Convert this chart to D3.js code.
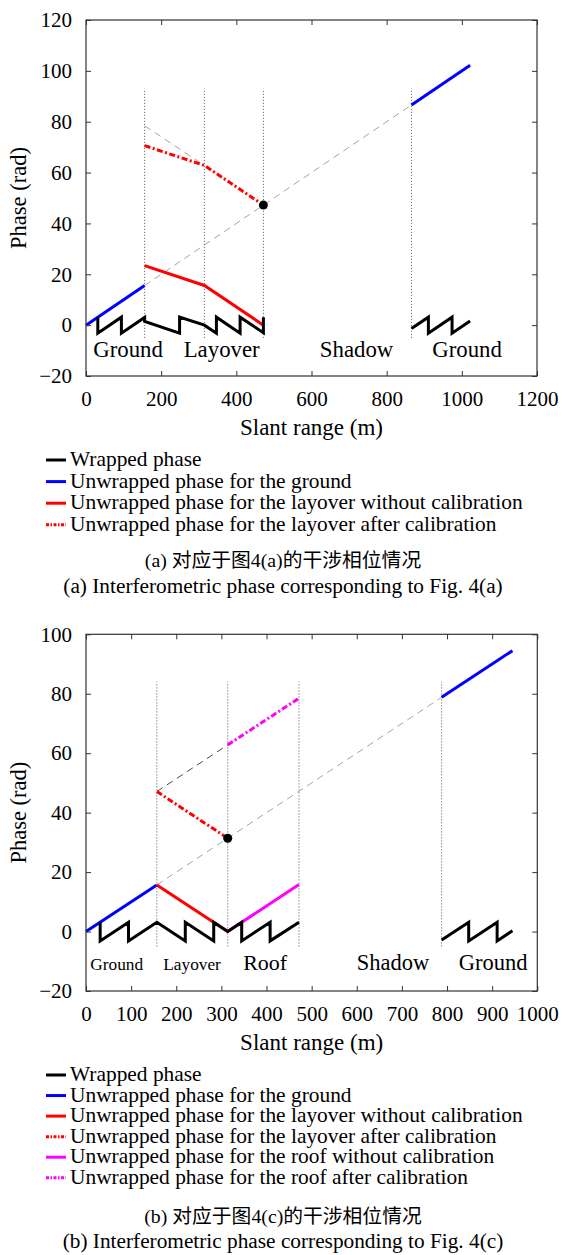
<!DOCTYPE html>
<html>
<head>
<meta charset="utf-8">
<script src="https://cdn.jsdelivr.net/npm/d3@7"></script>
<style>
body { margin: 0; background: #fff; }
svg text { font-family: "Liberation Serif", "Times New Roman", "Noto Sans CJK SC", serif; fill: #000; }
</style>
</head>
<body>
<div class="graph"></div>
<script>
//Panel (a) data, slant range (m) vs phase (rad)
const aTicksX = [0, 200, 400, 600, 800, 1000, 1200];
const aTicksY = [-20, 0, 20, 40, 60, 80, 100, 120];
const aBounds = [156, 315, 472, 866];
const aWrapped = [
    [[31.4, 3.14], [31.4, -3.14], [94.2, 3.14], [94.2, -3.14], [156, 3.04], [156, 1.5], [249, -3.14], [249, 3.14], [315, 0],
     [347, -3.14], [347, 3.14], [410, -3.14], [410, 3.14], [472, -3.0], [472, 3.14]],
    [[866, -1.36], [911, 3.14], [911, -3.14], [974, 3.14], [974, -3.14], [1022, 1.66]]
];
const aGround = [[[0, 0], [156, 15.6]], [[866, 86.6], [1022, 102.2]]];
const aLayover = [[[156, 23.4], [315, 15.6], [472, 0]]];
const aLayoverCal = [[[156, 70.6], [315, 62.8], [472, 47.2]]];
const aGuideLight = [[[156, 15.6], [866, 86.6]], [[156, 78.4], [315, 62.8]]];
const aGuideDark = [];
const aDot = [[472, 47.2]];
const aRegions = ["Ground", "Layover", "Shadow", "Ground"];
const aRegionX = [112, 361, 720, 1014];

//Panel (b) data
const bTicksX = [0, 100, 200, 300, 400, 500, 600, 700, 800, 900, 1000];
const bTicksY = [-20, 0, 20, 40, 60, 80, 100];
const bBounds = [157, 314, 472, 788];
const bWrapped = [
    [[31.4, 3.14], [31.4, -3.14], [94.2, 3.14], [94.2, -3.14], [157, 3.14], [220, -3.14], [220, 3.14], [283, -3.14], [283, 3.14],
     [314, 0], [345, 3.14], [345, -3.14], [408, 3.14], [408, -3.14], [472, 3.14]],
    [[788, -2.88], [848, 3.14], [848, -3.14], [911, 3.14], [911, -3.14], [945, 0.26]]
];
const bGround = [[[0, 0], [157, 15.7]], [[788, 78.8], [945, 94.5]]];
const bLayover = [[[157, 15.7], [314, 0]]];
const bLayoverCal = [[[157, 47.1], [314, 31.4]]];
const bRoof = [[[314, 0], [472, 15.8]]];
const bRoofCal = [[[314, 62.8], [472, 78.5]]];
const bGuideLight = [[[157, 15.7], [788, 78.8]]];
const bGuideDark = [[[157, 47.1], [314, 62.8]]];
const bDot = [[314, 31.4]];
const bRegions = ["Ground", "Layover", "Roof", "Shadow", "Ground"];
const bRegionX = [68, 235, 397, 680, 902];

//Legend and captions
const legendLabels = [
    "Wrapped phase",
    "Unwrapped phase for the ground",
    "Unwrapped phase for the layover without calibration",
    "Unwrapped phase for the layover after calibration",
    "Unwrapped phase for the roof without calibration",
    "Unwrapped phase for the roof after calibration"
];
const aCaptions = ["(a) 对应于图4(a)的干涉相位情况", "(a) Interferometric phase corresponding to Fig. 4(a)"];
const bCaptions = ["(b) 对应于图4(c)的干涉相位情况", "(b) Interferometric phase corresponding to Fig. 4(c)"];

//Line styles, same order as the legend
const FONT = "Liberation Serif, Times New Roman, Noto Sans CJK SC, serif";
const DASHDOT = "6,2.5,2,2.5";
const styles = [
    { color: "#000", dash: null },
    { color: "#0000ff", dash: null },
    { color: "#ff0000", dash: null },
    { color: "#ff0000", dash: DASHDOT },
    { color: "#ff00ff", dash: null },
    { color: "#ff00ff", dash: DASHDOT }
];

let svg = d3.select(".graph")
    .append("svg")
    .attr("width", 573)
    .attr("height", 1255)
    .attr("font-family", FONT)
    .style("display", "block");

svg.append("rect").attr("width", 573).attr("height", 1255).attr("fill", "#fff");

function drawPanel(p) {
    let x = d3.scaleLinear().domain(p.xDomain).range([p.left, p.right]);
    let y = d3.scaleLinear().domain(p.yDomain).range([p.bottom, p.top]);
    let line = d3.line().x(d => x(d[0])).y(d => y(d[1]));
    let g = svg.append("g");

    //Dotted boundaries
    g.selectAll(".bound")
        .data(p.bounds)
        .enter()
        .append("line")
        .attr("x1", d => x(d)).attr("x2", d => x(d))
        .attr("y1", y(p.boundLow)).attr("y2", y(p.boundHigh))
        .attr("stroke", "#555")
        .attr("stroke-width", 1)
        .attr("stroke-dasharray", "1,2");

    //Thin dashed guides
    g.selectAll(".guideLight")
        .data(p.guideLight)
        .enter()
        .append("path")
        .attr("d", line)
        .attr("fill", "none")
        .attr("stroke", "#9a9a9a")
        .attr("stroke-width", 0.9)
        .attr("stroke-dasharray", "7,5");
    g.selectAll(".guideDark")
        .data(p.guideDark)
        .enter()
        .append("path")
        .attr("d", line)
        .attr("fill", "none")
        .attr("stroke", "#333")
        .attr("stroke-width", 0.9)
        .attr("stroke-dasharray", "7,5");

    //Unwrapped series, then wrapped phase on top
    p.series.forEach((segs, i) => {
        if (i === 0) return;
        g.selectAll(".s" + i)
            .data(segs)
            .enter()
            .append("path")
            .attr("d", line)
            .attr("fill", "none")
            .attr("stroke", styles[i].color)
            .attr("stroke-width", 3)
            .attr("stroke-dasharray", styles[i].dash);
    });
    g.selectAll(".wrapped")
        .data(p.series[0])
        .enter()
        .append("path")
        .attr("d", line)
        .attr("fill", "none")
        .attr("stroke", "#000")
        .attr("stroke-width", 3);

    g.selectAll(".dot")
        .data(p.dot)
        .enter()
        .append("circle")
        .attr("cx", d => x(d[0]))
        .attr("cy", d => y(d[1]))
        .attr("r", 4.5)
        .attr("fill", "#000");

    //Region names
    g.selectAll(".region")
        .data(p.regions)
        .enter()
        .append("text")
        .attr("x", (d, i) => x(p.regionX[i]))
        .attr("y", p.regionY)
        .attr("text-anchor", "middle")
        .attr("font-family", FONT)
        .attr("font-size", (d, i) => p.regionSizes[i])
        .text(d => d);

    //Axes with inward ticks on all sides
    let fmt = d3.format("d");
    let axes = [
        d3.axisBottom(x).tickValues(p.ticksX).tickFormat(fmt).tickPadding(15),
        d3.axisLeft(y).tickValues(p.ticksY).tickFormat(fmt).tickPadding(14),
        d3.axisTop(x).tickValues(p.ticksX).tickFormat(""),
        d3.axisRight(y).tickValues(p.ticksY).tickFormat("")
    ];
    let shifts = [
        `translate(0, ${p.bottom})`,
        `translate(${p.left}, 0)`,
        `translate(0, ${p.top})`,
        `translate(${p.right}, 0)`
    ];
    axes.forEach((a, i) => {
        let ag = g.append("g")
            .attr("transform", shifts[i])
            .call(a.tickSizeInner(-5).tickSizeOuter(0));
        ag.attr("font-family", FONT).attr("font-size", 21);
        ag.selectAll("text").attr("font-family", FONT);
        ag.select(".domain").remove();
        ag.selectAll("line").attr("stroke", "#333");
    });

    g.append("rect")
        .attr("x", p.left).attr("y", p.top)
        .attr("width", p.right - p.left).attr("height", p.bottom - p.top)
        .attr("fill", "none")
        .attr("stroke", "#333")
        .attr("stroke-width", 1.2);

    //Axis titles
    g.append("text")
        .attr("transform", `translate(26, ${(p.top + p.bottom) / 2}) rotate(-90)`)
        .attr("text-anchor", "middle")
        .attr("font-family", FONT)
        .attr("font-size", 22.5)
        .text("Phase (rad)");
    g.append("text")
        .attr("x", (p.left + p.right) / 2)
        .attr("y", p.xTitleY)
        .attr("text-anchor", "middle")
        .attr("font-family", FONT)
        .attr("font-size", 23)
        .text("Slant range (m)");

    //Legend
    let leg = g.append("g");
    let rows = p.series.map((s, i) => i);
    leg.selectAll("line")
        .data(rows)
        .enter()
        .append("line")
        .attr("x1", 46).attr("x2", 66)
        .attr("y1", i => p.legendY + i * p.legendStep)
        .attr("y2", i => p.legendY + i * p.legendStep)
        .attr("stroke", i => styles[i].color)
        .attr("stroke-width", 3)
        .attr("stroke-dasharray", i => styles[i].dash ? "3,1.5,1.5,1.5" : null);
    leg.selectAll("text")
        .data(rows)
        .enter()
        .append("text")
        .attr("x", 70)
        .attr("y", i => p.legendY + i * p.legendStep + 6)
        .attr("font-family", FONT)
        .attr("font-size", 21.4)
        .text(i => legendLabels[i]);

    //Captions, Chinese line first
    g.selectAll(".caption")
        .data(p.captions)
        .enter()
        .append("text")
        .attr("x", 283)
        .attr("y", (d, i) => p.captionY[i])
        .attr("text-anchor", "middle")
        .attr("font-family", FONT)
        .attr("font-size", (d, i) => i === 0 ? 19.8 : 21.3)
        .text(d => d);
}

drawPanel({
    xDomain: [0, 1200], yDomain: [-20, 120],
    left: 86, right: 537, top: 20, bottom: 376,
    ticksX: aTicksX, ticksY: aTicksY,
    bounds: aBounds, boundLow: -5, boundHigh: 93,
    guideLight: aGuideLight, guideDark: aGuideDark,
    series: [aWrapped, aGround, aLayover, aLayoverCal],
    dot: aDot,
    regions: aRegions, regionX: aRegionX, regionY: 356.7,
    regionSizes: [22.8, 22.8, 22.8, 22.8],
    xTitleY: 435,
    legendY: 460, legendStep: 21.6,
    captions: aCaptions, captionY: [567, 592.7]
});

drawPanel({
    xDomain: [0, 1000], yDomain: [-20, 100],
    left: 86, right: 537.3, top: 634.3, bottom: 991,
    ticksX: bTicksX, ticksY: bTicksY,
    bounds: bBounds, boundLow: -5, boundHigh: 84,
    guideLight: bGuideLight, guideDark: bGuideDark,
    series: [bWrapped, bGround, bLayover, bLayoverCal, bRoof, bRoofCal],
    dot: bDot,
    regions: bRegions, regionX: bRegionX, regionY: 970,
    regionSizes: [17.3, 17.3, 22, 22.5, 22.5],
    xTitleY: 1050,
    legendY: 1075, legendStep: 20.55,
    captions: bCaptions, captionY: [1223, 1247.7]
});
</script>
</body>
</html>
